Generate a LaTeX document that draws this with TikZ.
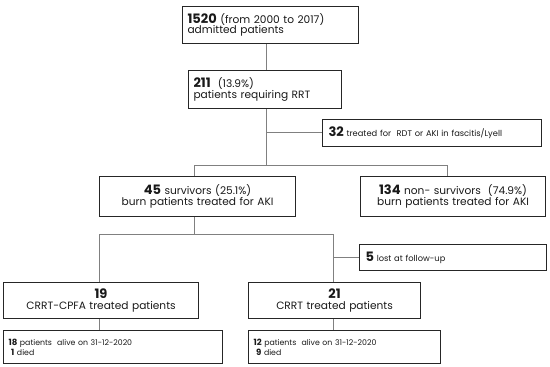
\documentclass[tikz,border=0pt]{standalone}
\usepackage{fontspec}
\setmainfont{Poppins}
\begin{document}
\begin{tikzpicture}[x=1pt,y=-1pt,
  box/.style={draw=black!85, line width=1.1pt, anchor=north west, inner xsep=5pt, inner ysep=0pt, text=black!90},
  conn/.style={draw=black!50, line width=0.8pt},
  big/.style={font=\fontsize{10.6}{12.5}\selectfont},
  small/.style={font=\fontsize{7.8}{10}\selectfont},
  mid/.style={font=\fontsize{8.3}{10}\selectfont}]
\useasboundingbox (0,0) rectangle (550,367);
\newcommand{\mynb}[1]{{\fontsize{13}{12}\selectfont\bfseries #1}}
\newcommand{\mysb}[1]{{\fontsize{8.6}{9}\selectfont\bfseries #1}}

\node[box,big,minimum width=176pt,minimum height=37pt,text width=166pt,inner xsep=4pt,align=left] (n1) at (182,6)
  {\mynb{1520} (from 2000 to 2017)\\[-2pt] admitted patients};
\node[box,big,minimum width=153pt,minimum height=38pt,text width=143pt,inner xsep=4pt,align=left] (n2) at (188,70)
  {\mynb{211}\ \ (13.9\%)\\[-2pt] patients requiring RRT};
\node[box,mid,minimum width=219pt,minimum height=27pt,text width=207pt,align=left] (n3) at (322,119)
  {\mynb{32} treated for\ \ RDT or AKI in fascitis/Lyell};
\node[box,big,minimum width=196pt,minimum height=40pt,text width=186pt,align=center] (n4) at (99,176)
  {\mynb{45} survivors (25.1\%)\\[-2pt] burn patients treated for AKI};
\node[box,big,minimum width=185pt,minimum height=40pt,text width=175pt,align=center] (n5) at (360,176)
  {\mynb{134} non- survivors\ \ (74.9\%)\\[-2pt] burn patients treated for AKI};
\node[box,mid,minimum width=187pt,minimum height=26pt,text width=175pt,align=left] (n6) at (359,244)
  {\mynb{5} lost at follow-up};
\node[box,big,minimum width=195pt,minimum height=36pt,text width=185pt,align=center] (n7) at (3,282)
  {\mynb{19}\\[-2pt] CRRT-CPFA treated patients};
\node[box,big,minimum width=172pt,minimum height=36pt,text width=162pt,align=center] (n8) at (248,282)
  {\mynb{21}\\[-2pt] CRRT treated patients};
\node[box,small,minimum width=219pt,minimum height=33pt,text width=209pt,inner xsep=4pt,align=left] (n9) at (3,330)
  {\mysb{18} patients\ \ alive on 31-12-2020\\ \ \mysb{1} died};
\node[box,small,minimum width=192pt,minimum height=33pt,text width=182pt,inner xsep=4pt,align=left] (n10) at (248,330)
  {\mysb{12} patients\ \ alive on 31-12-2020\\ \ \mysb{9} died};

\coordinate (j1) at (266,165);
\coordinate (j1l) at (194,165);
\coordinate (j1r) at (447,165);
\coordinate (j32) at (266,132);
\coordinate (j2) at (194,234);
\coordinate (j2l) at (99,234);
\coordinate (j2r) at (333,234);
\coordinate (j5) at (333,257);

\draw[conn] (n1.south -| j1) -- (n2.north -| j1);
\draw[conn] (n2.south -| j1) -- (j1);
\draw[conn] (j32) -- (n3.west |- j32);
\draw[conn] (j1l) -- (j1r);
\draw[conn] (j1l) -- (n4.north -| j1l);
\draw[conn] (j1r) -- (n5.north -| j1r);
\draw[conn] (n4.south -| j2) -- (j2);
\draw[conn] (j2l) -- (j2r);
\draw[conn] (j2l) -- (n7.north -| j2l);
\draw[conn] (j2r) -- (n8.north -| j2r);
\draw[conn] (j5) -- (n6.west |- j5);
\draw[conn] (n7.south -| j2l) -- (n9.north -| j2l);
\draw[conn] (n8.south -| j2r) -- (n10.north -| j2r);
\end{tikzpicture}
\end{document}
